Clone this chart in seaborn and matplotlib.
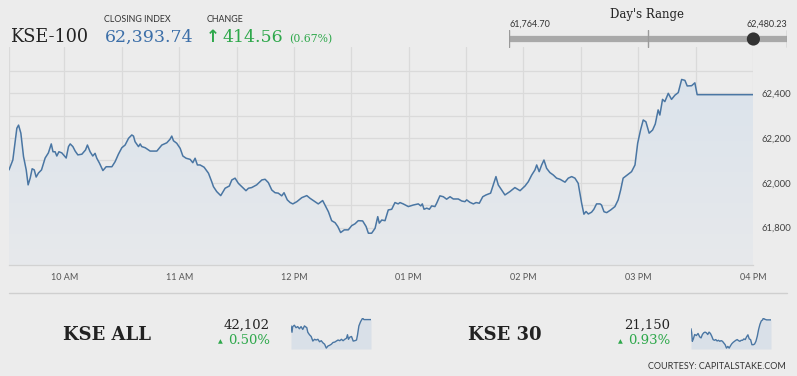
import numpy as np
import pandas as pd
import matplotlib
matplotlib.use("Agg")
import matplotlib.pyplot as plt
import seaborn as sns
from matplotlib.patches import Polygon
from matplotlib.colors import LinearSegmentedColormap

# ---------------- data ----------------
# KSE-100 intraday: minutes after 09:30, index level
kse100_min = [1, 3, 5.1, 6, 7.2, 8.6, 10, 11, 12.1, 13.1, 14.2, 15.2, 16.4, 18, 19.9, 21.6, 23.1, 24, 25.1, 26,
              27.1, 28.6, 30, 30.9, 32.1, 33, 34.4, 35.6, 37, 39.1, 41, 42, 43.4, 44.8, 46, 46.9, 48.3, 50.1, 51.8, 54.8,
              56.5, 58.2, 60, 61.7, 63.5, 65.2, 66.1, 66.9, 68.7, 69.6, 70.4, 72.2, 74.8, 78.3, 80.9, 83.5, 85.2, 86.1, 87, 88.7,
              90.5, 91.9, 93.6, 95.7, 97.1, 98.3, 99.5, 100.9, 103, 105.3, 107, 107.9, 109.6, 111.7, 114, 116.2, 117.5, 119.2, 120.9, 122.7,
              124.9, 126.2, 127.9, 130.5, 133.2, 134.9, 136.6, 138.4, 140.1, 141.8, 143.6, 144.8, 146.5, 148, 149.4, 151.5, 154.1, 156.7, 158.4, 161,
              162.7, 165, 166.2, 168, 169.7, 171.5, 172.9, 174.4, 176.3, 178.4, 180.2, 181.9, 183.6, 185.9, 187.7, 188.9, 190.6, 192.4, 193.8, 194.6,
              195.9, 197.6, 199.3, 201.1, 202.8, 204.5, 205.4, 207.1, 209.8, 212.4, 215, 216.3, 217.1, 218, 219.4, 220.8, 222, 223.7, 224.6, 226.3,
              228.1, 229.8, 231.6, 233.3, 235.9, 237.7, 239.4, 240.3, 242, 243.8, 245.2, 246.9, 248.7, 250.4, 252.8, 254.2, 255.6, 256.8, 258.6, 260.3,
              262.9, 265.5, 268.2, 270.8, 272.5, 274.3, 276, 276.9, 278.2, 279.5, 280.7, 282.1, 283.8, 285.6, 287.3, 289.1, 291.7, 293.4, 295.2, 296.9,
              298.6, 299.5, 300.4, 301.6, 302.7, 303.9, 305.6, 306.8, 308.2, 310, 310.8, 312.1, 313.5, 315.6, 317.8, 319.5, 320.8, 322.1, 324.2, 326.5,
              328.3, 329.7, 331.2, 332.6, 334, 335.7, 337.5, 338.9, 340.4, 341.3, 342.7, 343.9, 345.7, 347.4, 349.2, 350.9, 352.7, 354.4, 355.6, 357.9,
              359.6, 360.8, 390]
kse100_val = [62058, 62102, 62244, 62258, 62222, 62117, 62058, 61991, 62022, 62063, 62058, 62026, 62044, 62058, 62111, 62134, 62174, 62139, 62139, 62120,
              62139, 62134, 62120, 62111, 62162, 62174, 62162, 62142, 62125, 62128, 62147, 62169, 62139, 62120, 62132, 62110, 62088, 62055, 62072, 62072,
              62095, 62128, 62157, 62169, 62199, 62214, 62209, 62184, 62162, 62174, 62162, 62157, 62142, 62142, 62169, 62179, 62195, 62209, 62188, 62177,
              62154, 62120, 62110, 62105, 62090, 62110, 62080, 62080, 62070, 62043, 62005, 61983, 61961, 61943, 61976, 61986, 62013, 62021, 61998, 61983,
              61965, 61976, 61979, 61991, 62013, 62016, 62001, 61968, 61956, 61954, 61942, 61956, 61924, 61912, 61906, 61916, 61934, 61943, 61931, 61916,
              61906, 61921, 61901, 61871, 61831, 61822, 61805, 61778, 61790, 61790, 61809, 61817, 61831, 61830, 61805, 61775, 61775, 61797, 61849, 61820,
              61834, 61831, 61879, 61882, 61912, 61906, 61912, 61906, 61894, 61901, 61906, 61897, 61906, 61882, 61887, 61882, 61897, 61894, 61909, 61942,
              61938, 61927, 61938, 61928, 61928, 61919, 61916, 61924, 61913, 61906, 61912, 61909, 61938, 61946, 61954, 61991, 62028, 61991, 61968, 61946,
              61961, 61979, 61965, 61986, 62005, 62035, 62058, 62080, 62050, 62080, 62102, 62065, 62046, 62035, 62021, 62016, 62003, 62021, 62028, 62021,
              61998, 61954, 61909, 61860, 61872, 61861, 61869, 61882, 61906, 61906, 61901, 61871, 61867, 61879, 61894, 61924, 61968, 62021, 62035, 62050,
              62080, 62177, 62236, 62281, 62273, 62222, 62236, 62263, 62326, 62303, 62373, 62363, 62400, 62373, 62392, 62403, 62462, 62458, 62433, 62434,
              62447, 62394, 62394]

# KSE ALL sparkline
kseall_min = [3.3, 8.1, 11.4, 19.5, 27.6, 35.8, 43.9, 52, 60.1, 68.3, 79.6, 84.5, 92.6, 100.8, 108.9, 117, 125.1, 133.3, 141.4, 149.5,
              157.6, 165.8, 173.9, 182, 190.1, 198.3, 206.4, 214.5, 222.6, 230.8, 238.9, 247, 255.1, 263.3, 271.4, 276.3, 281.1, 287.6, 295.8, 303.9,
              312, 320.1, 325, 331.5, 339.6, 349.4, 355.9, 368.9, 390]
kseall_val = [42030, 41958, 42022, 42038, 42010, 42022, 41998, 42022, 41990, 42030, 42010, 41958, 41930, 41910, 41858, 41878, 41870, 41878, 41850, 41862,
              41838, 41822, 41778, 41802, 41810, 41822, 41842, 41846, 41858, 41870, 41862, 41878, 41862, 41878, 41890, 41930, 41878, 41902, 41910, 41858,
              41862, 41870, 41930, 42030, 42078, 42118, 42102, 42102, 42102]

# KSE 30 sparkline
kse30_min = [1.6, 4.9, 8.1, 13, 19.5, 27.6, 35.8, 43.9, 50.4, 56.9, 63.4, 69.9, 76.4, 82.9, 89.4, 95.9, 102.4, 108.9, 115.4, 121.9,
             128.4, 134.9, 141.4, 147.9, 154.4, 160.9, 167.4, 173.9, 180.4, 186.9, 193.4, 199.9, 206.4, 212.9, 219.4, 225.9, 232.4, 238.9, 245.4, 251.9,
             258.4, 264.9, 271.4, 277.9, 284.4, 290.9, 297.4, 303.9, 310.4, 316.9, 323.4, 329.9, 336.4, 342.9, 349.4, 352.6, 359.1, 368.9, 390]
kse30_val = [21072, 21036, 20961, 20982, 21021, 21012, 21030, 21000, 20991, 21021, 21036, 21042, 21036, 21021, 21042, 21030, 21006, 20976, 20970, 20976,
             20964, 20970, 20961, 20967, 20961, 20946, 20931, 20901, 20916, 20901, 20922, 20940, 20952, 20961, 20970, 20976, 20967, 20961, 20970, 20970,
             20982, 20976, 21000, 21018, 20982, 20976, 20931, 20931, 20937, 20961, 21006, 21066, 21111, 21141, 21150, 21165, 21156, 21150, 21150]

hour_ticks = [30, 90, 150, 210, 270, 330, 390]
hour_labels = ["10 AM", "11 AM", "12 PM", "01 PM", "02 PM", "03 PM", "04 PM"]
y_label_ticks = [61800, 62000, 62200, 62400]

closing_index = 62393.74
change_pts = 414.56
change_pct = 0.67
day_low = 61764.70
day_high = 62480.23

summary_names = ["KSE ALL", "KSE 30"]
summary_values = ["42,102", "21,150"]
summary_pcts = ["0.50%", "0.93%"]

# ---------------- style ----------------
BG = "#ececec"
GRID = "#dadada"
LINE = "#4a76a3"
GREEN = "#2ea84b"
BLUE = "#3b6ea8"
DARK = "#222222"

sns.set_theme(style="white")
plt.rcParams["font.family"] = ["DejaVu Serif"]

W, H = 797, 376
fig = plt.figure(figsize=(W / 100, H / 100), dpi=100, facecolor=BG)


def fx(x):
    return x / W


def fy(y):
    return 1 - y / H


def box(x0, y0, x1, y1):
    return [fx(x0), fy(y1), fx(x1) - fx(x0), fy(y0) - fy(y1)]


SANS = ["Lato", "DejaVu Sans"]
SERIF = ["DejaVu Serif"]

# ---------------- main chart ----------------
ax = fig.add_axes(box(9, 47, 753, 265))
ax.set_facecolor(BG)
df = pd.DataFrame({"t": kse100_min, "v": kse100_val})
y0, y1 = 61633, 62607
sns.lineplot(data=df, x="t", y="v", ax=ax, color=LINE, lw=1.1, zorder=4)

verts = np.column_stack([np.r_[df.t, df.t.iloc[-1], df.t.iloc[0]],
                         np.r_[df.v, y0, y0]])
patch = Polygon(verts, closed=True, facecolor="none", edgecolor="none")
ax.add_patch(patch)
cmap = LinearSegmentedColormap.from_list("g", ["#e7e9eb", "#dbe3ec"])
grad = np.linspace(0, 1, 256).reshape(-1, 1)
im = ax.imshow(grad, cmap=cmap, aspect="auto", origin="lower",
               extent=[df.t.min(), df.t.max(), y0, df.v.max()], zorder=2)
im.set_clip_path(patch)

ax.set_xlim(df.t.min(), 390)
ax.set_ylim(y0, y1)
for g in np.arange(0, 391, 30):
    if g >= df.t.min():
        ax.axvline(g, color=GRID, lw=0.9, zorder=1)
ax.axvline(df.t.min(), color=GRID, lw=0.9, zorder=1)
for g in range(61700, 62501, 100):
    ax.axhline(g, color=GRID, lw=0.9, zorder=1)

ax.set_xticks(hour_ticks)
ax.set_xticklabels(hour_labels, fontfamily=SANS, fontsize=6.5, color="#555555")
ax.yaxis.tick_right()
ax.set_yticks(y_label_ticks)
ax.set_yticklabels([f"{v:,}" for v in y_label_ticks], fontfamily=SANS, fontsize=6.8, color="#444444")
ax.tick_params(axis="x", length=0, pad=6)
ax.tick_params(axis="y", length=0, pad=6)
ax.set_xlabel("")
ax.set_ylabel("")
for s in ["top", "left", "right"]:
    ax.spines[s].set_visible(False)
ax.spines["bottom"].set_color("#d2d2d2")
ax.spines["bottom"].set_linewidth(0.9)
ax.grid(False)

# ---------------- header ----------------
fig.text(fx(10), fy(42), "KSE-100", fontfamily=SERIF, fontsize=12.7, color=DARK, va="baseline")
fig.text(fx(104), fy(21.5), "CLOSING INDEX", fontfamily=SANS, fontsize=6.4, color="#333333", va="baseline")
fig.text(fx(105), fy(42), f"{closing_index:,.2f}", fontfamily=SERIF, fontsize=12.5, color=BLUE, va="baseline")
fig.text(fx(207), fy(21.5), "CHANGE", fontfamily=SANS, fontsize=6.4, color="#333333", va="baseline")
fig.text(fx(206), fy(42), "\u2191", fontfamily=["DejaVu Sans"], fontsize=12, color=GREEN, va="baseline", fontweight="bold")
fig.text(fx(222), fy(42), f"{change_pts:,.2f}", fontfamily=SERIF, fontsize=12.5, color=GREEN, va="baseline")
fig.text(fx(289), fy(42), f"({change_pct:.2f}%)", fontfamily=SERIF, fontsize=7.8, color=GREEN, va="baseline")

# day's range
fig.text(fx(647), fy(18), "Day's Range", fontfamily=SERIF, fontsize=8.5, color="#222222", ha="center", va="baseline")
fig.text(fx(509), fy(27), f"{day_low:,.2f}", fontfamily=SANS, fontsize=6.5, color="#333333", va="baseline")
fig.text(fx(787), fy(27), f"{day_high:,.2f}", fontfamily=SANS, fontsize=6.5, color="#333333", va="baseline", ha="right")
rax = fig.add_axes(box(509, 30, 787, 48))
rax.set_xlim(day_low, day_high)
rax.set_ylim(0, 1)
rax.axis("off")
rax.plot([day_low, day_high], [0.5, 0.5], color="#a9a9a9", lw=4.5, solid_capstyle="butt", zorder=1)
for xv in [day_low, (day_low + day_high) / 2, day_high]:
    rax.plot([xv, xv], [0.05, 0.98], color="#9a9a9a", lw=1.0, zorder=2)
sns.scatterplot(x=[closing_index], y=[0.5], ax=rax, s=90, color="#333333", edgecolor="none", zorder=3, clip_on=False)
rax.set_xlim(day_low, day_high)
rax.set_ylim(0, 1)

# ---------------- bottom summaries ----------------
fig.add_artist(plt.Line2D([fx(9), fx(787)], [fy(293), fy(293)], color="#cfcfcf", lw=1.0))

spark_data = [(kseall_min, kseall_val), (kse30_min, kse30_val)]
offsets = [0, 400]
name_x = [63, 468]
for i in range(2):
    o = offsets[i]
    fig.text(fx(name_x[i]), fy(340), summary_names[i], fontfamily=SERIF, fontsize=13,
             fontweight="bold", color=DARK, va="baseline")
    fig.text(fx(270 + o), fy(329), summary_values[i], fontfamily=SERIF, fontsize=9.5,
             color=DARK, va="baseline", ha="right")
    fig.text(fx(270 + o), fy(344.5), summary_pcts[i], fontfamily=SERIF, fontsize=9.5,
             color=GREEN, va="baseline", ha="right")
    fig.text(fx(218 + o), fy(343), "\u25B2", fontfamily=["DejaVu Sans"], fontsize=4.5,
             color=GREEN, va="baseline")
    t, v = spark_data[i]
    sax = fig.add_axes(box(291 + o, 318, 371 + o, 349))
    sdf = pd.DataFrame({"t": t, "v": v})
    lo, hi = sdf.v.min(), sdf.v.max()
    pad = (hi - lo) * 0.03
    sax.fill_between(sdf.t, sdf.v, lo - pad, color="#d9e0e8", lw=0, zorder=1)
    sns.lineplot(data=sdf, x="t", y="v", ax=sax, color=LINE, lw=1.0, zorder=2)
    sax.set_xlim(sdf.t.min(), sdf.t.max())
    sax.set_ylim(lo - pad, hi + pad * 0.2)
    sax.axis("off")

fig.text(fx(786), fy(369), "COURTESY: CAPITALSTAKE.COM", fontfamily=SANS, fontsize=6.5,
         color="#333333", va="baseline", ha="right")

fig.savefig("out.png", dpi=100, facecolor=BG)
